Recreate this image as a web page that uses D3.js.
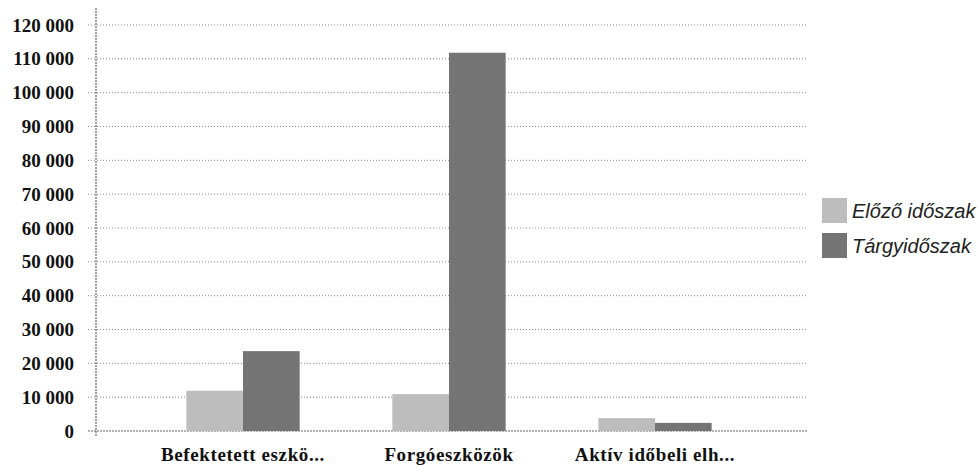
<!DOCTYPE html>
<html>
<head>
<meta charset="utf-8">
<script src="https://cdn.jsdelivr.net/npm/d3@7"></script>
<style>
  body { margin: 0; background: #fff; }
  .tick-label { font-family: "Liberation Serif", serif; font-weight: bold; font-size: 19px; fill: #111; }
  .x-label { letter-spacing: 0.6px; }
  .legend-text { font-family: "Liberation Sans", Arial, sans-serif; font-style: italic; font-size: 20px; fill: #222; }
</style>
</head>
<body>
<svg id="chart" width="979" height="466"></svg>
<script>
var categories = ["Befektetett eszkö...", "Forgóeszközök", "Aktív időbeli elh..."];
var seriesNames = ["Előző időszak", "Tárgyidőszak"];
var previousValues = [11900, 10900, 3800];
var currentValues = [23600, 111800, 2400];
var yTicks = [0, 10000, 20000, 30000, 40000, 50000, 60000, 70000, 80000, 90000, 100000, 110000, 120000];

var colors = ["#bdbdbd", "#747474"];
var plot = {left: 96, right: 808, top: 25, bottom: 431};

var svg = d3.select("#chart");

var y = d3.scaleLinear().domain([0, 120000]).range([plot.bottom, plot.top]);
var x = d3.scaleBand().domain(categories).range([140, 758])
    .paddingInner(0.45).paddingOuter(0.225);
var xs = d3.scaleBand().domain(d3.range(seriesNames.length)).range([0, x.bandwidth()]);

var fmt = function(v) { return d3.format(",")(v).replace(/,/g, " "); };

// grid
svg.append("g").selectAll("line").data(yTicks).enter().append("line")
    .attr("x1", plot.left - 8).attr("x2", plot.right)
    .attr("y1", function(d) { return y(d); }).attr("y2", function(d) { return y(d); })
    .attr("stroke", function(d) { return d === 0 ? "#666" : "#888"; })
    .attr("stroke-width", 1)
    .attr("stroke-dasharray", function(d) { return d === 0 ? "2,1" : "1,2"; });

// y labels
svg.append("g").selectAll("text").data(yTicks).enter().append("text")
    .attr("class", "tick-label")
    .attr("x", 74).attr("y", function(d) { return y(d); })
    .attr("dy", "0.35em").attr("text-anchor", "end")
    .text(fmt);

// bars
var groups = svg.append("g").selectAll("g").data(categories).enter().append("g")
    .attr("transform", function(d) { return "translate(" + x(d) + ",0)"; });

groups.selectAll("rect")
    .data(function(d, i) { return [previousValues[i], currentValues[i]]; })
    .enter().append("rect")
    .attr("x", function(d, j) { return xs(j); })
    .attr("width", xs.bandwidth())
    .attr("y", function(d) { return y(d); })
    .attr("height", function(d) { return plot.bottom - y(d); })
    .attr("fill", function(d, j) { return colors[j]; });

// y axis line
svg.append("line")
    .attr("x1", plot.left).attr("x2", plot.left)
    .attr("y1", 8).attr("y2", 437)
    .attr("stroke", "#444").attr("stroke-dasharray", "2,1");

// x labels
svg.append("g").selectAll("text").data(categories).enter().append("text")
    .attr("class", "tick-label x-label")
    .attr("x", function(d) { return x(d) + x.bandwidth() / 2; })
    .attr("y", 461).attr("text-anchor", "middle")
    .text(function(d) { return d; });

// legend
var legend = svg.append("g").selectAll("g").data(seriesNames).enter().append("g")
    .attr("transform", function(d, i) { return "translate(822," + (198 + i * 35) + ")"; });
legend.append("rect")
    .attr("width", 25).attr("height", 25)
    .attr("fill", function(d, i) { return colors[i]; });
legend.append("text")
    .attr("class", "legend-text")
    .attr("x", 30).attr("y", 20)
    .text(function(d) { return d; });
</script>
</body>
</html>
